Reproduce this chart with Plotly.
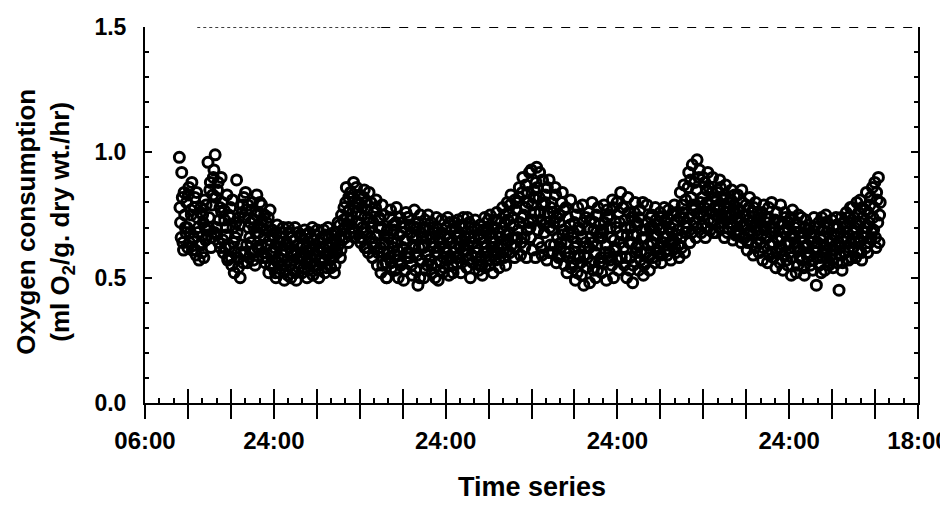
import plotly.graph_objects as go

# ---- data ----
# time axis: hours elapsed since 06:00 on day 1
START_HOUR = 4.8
STEP_HOURS = 1.0 / 6.0      # one reading every 10 minutes per series
OFFSET_B = 1.0 / 12.0       # second set of readings, 5 minutes later

o2_uptake_a = [
    0.98, 0.72, 0.92, 0.64, 0.84, 0.70,   # h5
    0.80, 0.62, 0.86, 0.68, 0.75, 0.61,   # h6
    0.66, 0.82, 0.59, 0.74, 0.70, 0.63,   # h7
    0.78, 0.60, 0.72, 0.81, 0.65, 0.69,   # h8
    0.96, 0.74, 0.88, 0.66, 0.83, 0.93,   # h9
    0.99, 0.70, 0.85, 0.64, 0.78, 0.90,   # h10
    0.80, 0.60, 0.73, 0.67, 0.83, 0.58,   # h11
    0.62, 0.78, 0.55, 0.70, 0.52, 0.66,   # h12
    0.89, 0.58, 0.74, 0.50, 0.63, 0.79,   # h13
    0.82, 0.60, 0.77, 0.56, 0.70, 0.66,   # h14
    0.64, 0.80, 0.57, 0.73, 0.68, 0.83,   # h15
    0.76, 0.61, 0.70, 0.79, 0.58, 0.66,   # h16
    0.56, 0.72, 0.63, 0.52, 0.77, 0.60,   # h17
    0.69, 0.54, 0.62, 0.50, 0.71, 0.58,   # h18
    0.52, 0.66, 0.57, 0.70, 0.49, 0.61,   # h19
    0.64, 0.51, 0.68, 0.55, 0.60, 0.53,   # h20
    0.57, 0.70, 0.49, 0.63, 0.54, 0.67,   # h21
    0.66, 0.52, 0.60, 0.69, 0.56, 0.50,   # h22
    0.53, 0.68, 0.58, 0.62, 0.51, 0.65,   # h23
    0.67, 0.55, 0.61, 0.50, 0.64, 0.58,   # h24
    0.56, 0.69, 0.52, 0.63, 0.59, 0.66,   # h25
    0.62, 0.54, 0.67, 0.58, 0.52, 0.65,   # h26
    0.60, 0.72, 0.66, 0.58, 0.75, 0.69,   # h27
    0.78, 0.66, 0.86, 0.71, 0.82, 0.68,   # h28
    0.84, 0.70, 0.88, 0.66, 0.76, 0.80,   # h29
    0.72, 0.83, 0.64, 0.78, 0.68, 0.85,   # h30
    0.80, 0.62, 0.74, 0.84, 0.66, 0.70,   # h31
    0.58, 0.76, 0.64, 0.81, 0.55, 0.70,   # h32
    0.73, 0.52, 0.79, 0.60, 0.67, 0.56,   # h33
    0.50, 0.66, 0.58, 0.77, 0.54, 0.71,   # h34
    0.69, 0.53, 0.78, 0.61, 0.57, 0.74,   # h35
    0.56, 0.72, 0.49, 0.65, 0.76, 0.60,   # h36
    0.74, 0.58, 0.68, 0.51, 0.63, 0.77,   # h37
    0.53, 0.70, 0.47, 0.62, 0.75, 0.57,   # h38
    0.66, 0.50, 0.73, 0.59, 0.55, 0.69,   # h39
    0.57, 0.72, 0.52, 0.64, 0.68, 0.60,   # h40
    0.70, 0.49, 0.62, 0.56, 0.73, 0.52,   # h41
    0.54, 0.67, 0.60, 0.74, 0.51, 0.64,   # h42
    0.69, 0.55, 0.72, 0.62, 0.58, 0.66,   # h43
    0.58, 0.71, 0.52, 0.65, 0.74, 0.61,   # h44
    0.68, 0.54, 0.63, 0.72, 0.50, 0.59,   # h45
    0.56, 0.66, 0.73, 0.60, 0.69, 0.53,   # h46
    0.71, 0.58, 0.51, 0.64, 0.74, 0.62,   # h47
    0.60, 0.73, 0.55, 0.68, 0.64, 0.52,   # h48
    0.70, 0.57, 0.76, 0.62, 0.54, 0.66,   # h49
    0.63, 0.78, 0.58, 0.72, 0.67, 0.80,   # h50
    0.76, 0.60, 0.83, 0.66, 0.71, 0.58,   # h51
    0.62, 0.80, 0.69, 0.86, 0.59, 0.74,   # h52
    0.90, 0.66, 0.78, 0.58, 0.84, 0.72,   # h53
    0.70, 0.93, 0.61, 0.82, 0.76, 0.88,   # h54
    0.86, 0.64, 0.92, 0.73, 0.59, 0.79,   # h55
    0.68, 0.83, 0.57, 0.76, 0.89, 0.63,   # h56
    0.80, 0.60, 0.72, 0.86, 0.56, 0.66,   # h57
    0.58, 0.75, 0.64, 0.84, 0.69, 0.55,   # h58
    0.78, 0.52, 0.68, 0.60, 0.81, 0.56,   # h59
    0.55, 0.72, 0.49, 0.64, 0.78, 0.59,   # h60
    0.69, 0.51, 0.79, 0.47, 0.62, 0.74,   # h61
    0.58, 0.76, 0.48, 0.66, 0.80, 0.53,   # h62
    0.72, 0.50, 0.63, 0.78, 0.56, 0.68,   # h63
    0.52, 0.69, 0.79, 0.60, 0.49, 0.74,   # h64
    0.75, 0.57, 0.66, 0.81, 0.50, 0.62,   # h65
    0.61, 0.80, 0.53, 0.72, 0.84, 0.67,   # h66
    0.78, 0.55, 0.70, 0.50, 0.82, 0.64,   # h67
    0.58, 0.74, 0.48, 0.67, 0.80, 0.62,   # h68
    0.71, 0.53, 0.77, 0.60, 0.66, 0.51,   # h69
    0.56, 0.69, 0.79, 0.63, 0.53, 0.74,   # h70
    0.75, 0.58, 0.67, 0.78, 0.61, 0.71,   # h71
    0.62, 0.76, 0.56, 0.70, 0.66, 0.73,   # h72
    0.72, 0.59, 0.77, 0.64, 0.57, 0.68,   # h73
    0.65, 0.79, 0.60, 0.73, 0.69, 0.58,   # h74
    0.84, 0.62, 0.76, 0.87, 0.68, 0.72,   # h75
    0.70, 0.92, 0.64, 0.82, 0.95, 0.77,   # h76
    0.88, 0.66, 0.97, 0.74, 0.93, 0.80,   # h77
    0.71, 0.90, 0.78, 0.66, 0.85, 0.92,   # h78
    0.86, 0.69, 0.76, 0.90, 0.73, 0.82,   # h79
    0.68, 0.84, 0.79, 0.89, 0.72, 0.75,   # h80
    0.81, 0.66, 0.87, 0.74, 0.70, 0.78,   # h81
    0.72, 0.85, 0.65, 0.79, 0.76, 0.68,   # h82
    0.83, 0.67, 0.74, 0.64, 0.80, 0.71,   # h83
    0.66, 0.79, 0.61, 0.73, 0.82, 0.69,   # h84
    0.76, 0.59, 0.70, 0.80, 0.64, 0.73,   # h85
    0.60, 0.74, 0.67, 0.57, 0.79, 0.70,   # h86
    0.72, 0.56, 0.78, 0.63, 0.68, 0.60,   # h87
    0.58, 0.70, 0.54, 0.76, 0.65, 0.62,   # h88
    0.79, 0.61, 0.53, 0.68, 0.74, 0.57,   # h89
    0.55, 0.72, 0.64, 0.51, 0.77, 0.66,   # h90
    0.70, 0.52, 0.62, 0.75, 0.58, 0.66,   # h91
    0.57, 0.68, 0.51, 0.73, 0.63, 0.60,   # h92
    0.71, 0.55, 0.66, 0.53, 0.74, 0.62,   # h93
    0.47, 0.64, 0.72, 0.58, 0.52, 0.69,   # h94
    0.66, 0.53, 0.75, 0.61, 0.70, 0.56,   # h95
    0.59, 0.73, 0.54, 0.67, 0.63, 0.71,   # h96
    0.70, 0.45, 0.62, 0.74, 0.56, 0.66,   # h97
    0.60, 0.76, 0.68, 0.57, 0.72, 0.64,   # h98
    0.78, 0.62, 0.70, 0.58, 0.80, 0.66,   # h99
    0.64, 0.81, 0.57, 0.74, 0.68, 0.77,   # h100
    0.84, 0.60, 0.72, 0.79, 0.66, 0.86,   # h101
    0.69, 0.88, 0.62, 0.81, 0.90, 0.75,   # h102
]

o2_uptake_b = [
    0.78, 0.66, 0.82, 0.61, 0.75, 0.68,   # h5
    0.70, 0.83, 0.64, 0.77, 0.88, 0.66,   # h6
    0.78, 0.61, 0.84, 0.68, 0.57, 0.76,   # h7
    0.63, 0.75, 0.58, 0.70, 0.79, 0.67,   # h8
    0.70, 0.85, 0.62, 0.79, 0.90, 0.68,   # h9
    0.82, 0.67, 0.88, 0.73, 0.62, 0.76,   # h10
    0.65, 0.77, 0.62, 0.70, 0.57, 0.75,   # h11
    0.74, 0.58, 0.81, 0.64, 0.60, 0.72,   # h12
    0.68, 0.54, 0.71, 0.60, 0.76, 0.56,   # h13
    0.74, 0.84, 0.63, 0.79, 0.58, 0.72,   # h14
    0.77, 0.60, 0.70, 0.55, 0.75, 0.62,   # h15
    0.68, 0.80, 0.63, 0.73, 0.60, 0.75,   # h16
    0.69, 0.58, 0.74, 0.65, 0.55, 0.67,   # h17
    0.60, 0.66, 0.52, 0.68, 0.56, 0.64,   # h18
    0.64, 0.55, 0.68, 0.59, 0.63, 0.53,   # h19
    0.57, 0.70, 0.62, 0.50, 0.66, 0.59,   # h20
    0.65, 0.52, 0.60, 0.68, 0.58, 0.62,   # h21
    0.58, 0.63, 0.54, 0.67, 0.62, 0.57,   # h22
    0.60, 0.56, 0.66, 0.70, 0.55, 0.63,   # h23
    0.59, 0.69, 0.53, 0.62, 0.57, 0.66,   # h24
    0.62, 0.57, 0.67, 0.54, 0.70, 0.60,   # h25
    0.57, 0.64, 0.60, 0.68, 0.55, 0.61,   # h26
    0.68, 0.63, 0.71, 0.61, 0.65, 0.73,   # h27
    0.70, 0.80, 0.74, 0.64, 0.77, 0.84,   # h28
    0.73, 0.82, 0.68, 0.78, 0.86, 0.72,   # h29
    0.80, 0.66, 0.75, 0.70, 0.82, 0.62,   # h30
    0.68, 0.77, 0.60, 0.72, 0.80, 0.64,   # h31
    0.72, 0.62, 0.78, 0.67, 0.60, 0.74,   # h32
    0.62, 0.70, 0.55, 0.75, 0.64, 0.50,   # h33
    0.69, 0.60, 0.74, 0.56, 0.64, 0.62,   # h34
    0.59, 0.72, 0.64, 0.50, 0.67, 0.55,   # h35
    0.68, 0.62, 0.70, 0.53, 0.58, 0.74,   # h36
    0.60, 0.71, 0.55, 0.66, 0.70, 0.62,   # h37
    0.66, 0.59, 0.72, 0.50, 0.68, 0.63,   # h38
    0.62, 0.70, 0.53, 0.66, 0.75, 0.57,   # h39
    0.66, 0.55, 0.70, 0.62, 0.50, 0.74,   # h40
    0.60, 0.66, 0.53, 0.68, 0.64, 0.58,   # h41
    0.62, 0.70, 0.57, 0.66, 0.72, 0.58,   # h42
    0.64, 0.52, 0.60, 0.70, 0.56, 0.73,   # h43
    0.68, 0.62, 0.56, 0.70, 0.63, 0.66,   # h44
    0.61, 0.74, 0.57, 0.66, 0.70, 0.64,   # h45
    0.64, 0.70, 0.58, 0.62, 0.67, 0.55,   # h46
    0.66, 0.55, 0.69, 0.60, 0.54, 0.68,   # h47
    0.70, 0.57, 0.75, 0.62, 0.66, 0.59,   # h48
    0.64, 0.73, 0.60, 0.68, 0.58, 0.72,   # h49
    0.70, 0.60, 0.75, 0.55, 0.65, 0.73,   # h50
    0.68, 0.79, 0.63, 0.74, 0.62, 0.81,   # h51
    0.77, 0.66, 0.82, 0.72, 0.64, 0.84,   # h52
    0.75, 0.62, 0.87, 0.69, 0.80, 0.92,   # h53
    0.66, 0.79, 0.73, 0.85, 0.58, 0.94,   # h54
    0.69, 0.82, 0.76, 0.62, 0.89, 0.71,   # h55
    0.80, 0.72, 0.86, 0.60, 0.70, 0.78,   # h56
    0.69, 0.76, 0.63, 0.83, 0.74, 0.59,   # h57
    0.72, 0.62, 0.80, 0.67, 0.77, 0.60,   # h58
    0.64, 0.74, 0.58, 0.71, 0.54, 0.66,   # h59
    0.68, 0.62, 0.75, 0.52, 0.70, 0.58,   # h60
    0.56, 0.66, 0.72, 0.59, 0.64, 0.54,   # h61
    0.70, 0.62, 0.73, 0.56, 0.64, 0.69,   # h62
    0.60, 0.75, 0.53, 0.66, 0.71, 0.58,   # h63
    0.66, 0.56, 0.72, 0.63, 0.77, 0.58,   # h64
    0.60, 0.70, 0.55, 0.78, 0.65, 0.72,   # h65
    0.70, 0.57, 0.76, 0.64, 0.58, 0.78,   # h66
    0.62, 0.73, 0.58, 0.67, 0.76, 0.53,   # h67
    0.70, 0.64, 0.55, 0.76, 0.60, 0.72,   # h68
    0.63, 0.74, 0.57, 0.69, 0.80, 0.55,   # h69
    0.66, 0.60, 0.72, 0.58, 0.70, 0.64,   # h70
    0.64, 0.70, 0.56, 0.73, 0.67, 0.60,   # h71
    0.69, 0.59, 0.74, 0.64, 0.78, 0.61,   # h72
    0.66, 0.74, 0.61, 0.70, 0.63, 0.75,   # h73
    0.71, 0.62, 0.76, 0.67, 0.63, 0.74,   # h74
    0.66, 0.79, 0.74, 0.60, 0.81, 0.70,   # h75
    0.86, 0.74, 0.89, 0.68, 0.79, 0.72,   # h76
    0.78, 0.85, 0.70, 0.90, 0.76, 0.68,   # h77
    0.82, 0.75, 0.88, 0.70, 0.80, 0.73,   # h78
    0.79, 0.72, 0.84, 0.68, 0.78, 0.75,   # h79
    0.81, 0.77, 0.70, 0.86, 0.74, 0.82,   # h80
    0.72, 0.83, 0.76, 0.68, 0.80, 0.75,   # h81
    0.81, 0.70, 0.77, 0.83, 0.67, 0.74,   # h82
    0.69, 0.77, 0.72, 0.85, 0.66, 0.75,   # h83
    0.75, 0.71, 0.64, 0.78, 0.68, 0.72,   # h84
    0.67, 0.78, 0.62, 0.72, 0.69, 0.75,   # h85
    0.72, 0.64, 0.76, 0.62, 0.69, 0.74,   # h86
    0.66, 0.74, 0.59, 0.70, 0.80, 0.64,   # h87
    0.68, 0.73, 0.60, 0.66, 0.72, 0.56,   # h88
    0.66, 0.72, 0.59, 0.76, 0.63, 0.70,   # h89
    0.69, 0.60, 0.74, 0.58, 0.67, 0.62,   # h90
    0.64, 0.72, 0.55, 0.68, 0.61, 0.74,   # h91
    0.66, 0.54, 0.70, 0.62, 0.58, 0.69,   # h92
    0.59, 0.68, 0.64, 0.57, 0.70, 0.60,   # h93
    0.62, 0.70, 0.55, 0.66, 0.74, 0.60,   # h94
    0.63, 0.72, 0.58, 0.68, 0.55, 0.64,   # h95
    0.65, 0.57, 0.70, 0.61, 0.74, 0.56,   # h96
    0.64, 0.59, 0.68, 0.53, 0.72, 0.60,   # h97
    0.70, 0.66, 0.74, 0.62, 0.78, 0.58,   # h98
    0.68, 0.74, 0.64, 0.72, 0.60, 0.76,   # h99
    0.72, 0.60, 0.78, 0.66, 0.70, 0.62,   # h100
    0.70, 0.76, 0.64, 0.82, 0.68, 0.74,   # h101
    0.78, 0.66, 0.84, 0.72, 0.64, 0.80,   # h102
]

times_a = [START_HOUR + i * STEP_HOURS for i in range(len(o2_uptake_a))]
times_b = [START_HOUR + OFFSET_B + i * STEP_HOURS for i in range(len(o2_uptake_b))]

x_tick_hours = [0, 6, 12, 18, 24, 30, 36, 42, 48, 54, 60, 66, 72, 78, 84, 90, 96, 102, 108]
x_tick_labels = {0: "06:00", 18: "24:00", 42: "24:00", 66: "24:00", 90: "24:00", 108: "18:00"}
y_tick_values = [0.0, 0.5, 1.0, 1.5]
y_tick_labels = ["0.0", "0.5", "1.0", "1.5"]

FONT = "Liberation Sans, Arial, sans-serif"
MARKER = dict(symbol="circle-open", size=10, color="black", line=dict(width=3, color="black"))

fig = go.Figure()
fig.add_trace(go.Scatter(x=times_a, y=o2_uptake_a, mode="markers", marker=MARKER,
                         showlegend=False, hoverinfo="skip"))
fig.add_trace(go.Scatter(x=times_b, y=o2_uptake_b, mode="markers", marker=MARKER,
                         showlegend=False, hoverinfo="skip"))
# invisible trace to carry the inner tick overlay axis
fig.add_trace(go.Scatter(x=[0, 108], y=[0, 0], xaxis="x2", mode="markers",
                         marker=dict(opacity=0), showlegend=False, hoverinfo="skip"))

# the page body adds an 8 px offset, so the figure is 8 px smaller than the window
fig.update_layout(
    width=940, height=497,
    margin=dict(l=137, r=30, t=19, b=102, autoexpand=False),
    paper_bgcolor="white", plot_bgcolor="white",
    font=dict(family=FONT, color="black"),
    xaxis=dict(
        range=[0, 108], showgrid=False, zeroline=False, automargin=False,
        showline=True, linecolor="black", linewidth=2,
        tickmode="array", tickvals=x_tick_hours,
        ticktext=[x_tick_labels.get(h, "") for h in x_tick_hours],
        ticks="outside", ticklen=14, tickwidth=2, tickcolor="black",
        tickfont=dict(size=24, family=FONT, color="black", weight="bold"),
        ticklabelstandoff=1, ticklabeloverflow="allow",
    ),
    xaxis2=dict(
        range=[0, 108], overlaying="x", anchor="y", side="bottom", automargin=False,
        showgrid=False, zeroline=False, showline=False, showticklabels=False,
        tickmode="linear", tick0=0, dtick=6,
        ticks="inside", ticklen=14, tickwidth=2, tickcolor="black",
        minor=dict(ticks="inside", ticklen=5, tickwidth=1.5, tickcolor="black", dtick=2, tick0=0, showgrid=False),
    ),
    yaxis=dict(
        range=[0, 1.5], showgrid=False, zeroline=False, automargin=False,
        showline=True, linecolor="black", linewidth=2, mirror="ticks",
        tickmode="array", tickvals=y_tick_values, ticktext=y_tick_labels,
        ticks="inside", ticklen=7, tickwidth=2, tickcolor="black",
        minor=dict(ticks="inside", ticklen=4, tickwidth=1.5, tickcolor="black", dtick=0.1, tick0=0, showgrid=False),
        tickfont=dict(size=23, family=FONT, color="black", weight="bold"),
        ticklabelstandoff=12,
    ),
    shapes=[
        dict(type="line", xref="x", yref="y", x0=7.3, x1=33, y0=1.5, y1=1.5,
             line=dict(color="black", width=1.5, dash="dot")),
        dict(type="line", xref="x", yref="y", x0=33, x1=108, y0=1.5, y1=1.5,
             line=dict(color="black", width=2, dash="dash")),
    ],
    annotations=[
        dict(text="Time series", xref="paper", yref="paper", x=0.5, y=-0.223,
             xanchor="center", yanchor="middle", showarrow=False,
             font=dict(size=27, family=FONT, color="black", weight="bold")),
        dict(text="Oxygen consumption<br>(ml O<sub>2</sub>/g. dry wt./hr)", xref="paper", yref="paper",
             x=-0.13, y=0.481, xanchor="center", yanchor="middle", textangle=-90,
             showarrow=False,
             font=dict(size=26, family=FONT, color="black", weight="bold")),
    ],
)

fig.write_html("out.html")
